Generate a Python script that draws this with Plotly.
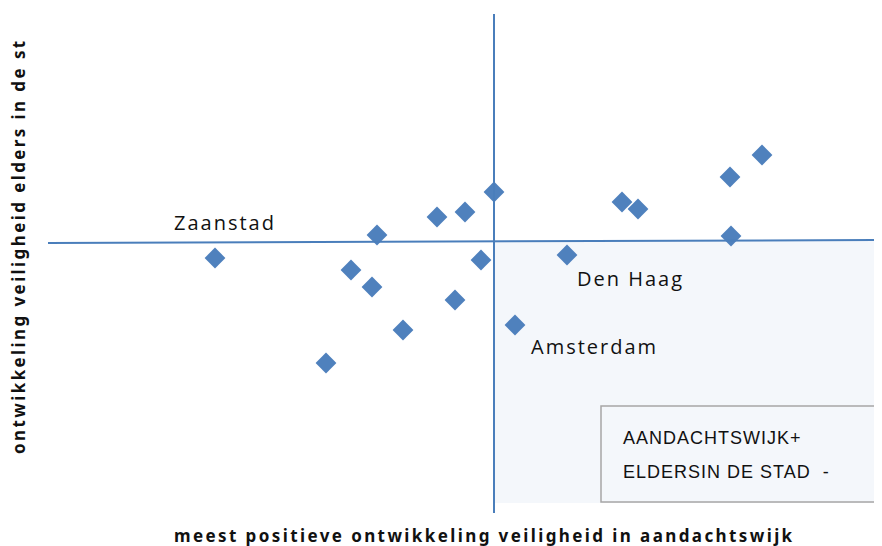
import plotly.graph_objects as go

# ---- data ----
x_vals = [-27.9, -16.8, -14.3, -12.2, -11.7, -9.1, -5.7, -3.9, -2.9, -1.3,
          0.0, 2.1, 7.3, 12.8, 14.4, 23.6, 23.7, 26.8]
y_vals = [-1.6, -12.1, -2.8, -4.5, 0.7, -8.8, 2.5, -5.8, 3.0, -1.8,
          5.0, -8.3, -1.3, 4.0, 3.3, 6.5, 0.6, 8.7]

labels = {"Zaanstad": (-27.9, -1.6), "Den Haag": (7.3, -1.3), "Amsterdam": (2.1, -8.3)}
label_offsets = {"Zaanstad": (-4.3, 3.6), "Den Haag": (0.8, -2.3), "Amsterdam": (1.4, -2.1)}

x_title = "meest positieve ontwikkeling veiligheid in aandachtswijk"
y_title = "ontwikkeling veiligheid elders in de st"
legend_lines = ["AANDACHTSWIJK+", "ELDERSIN DE STAD  -"]

BLUE = "#4F81BD"
LINE = "#4A7EBB"

# page body has an 8px margin, so the figure is 874x538 and sits at (8, 8)
W, H = 874, 538
X_RANGE = [-48.6, 38.8]
Y_RANGE = [-30.4, 23.4]


def px(x):  # window pixel -> paper fraction
    return (x - 8) / W


def py(y):
    return 1 - (y - 8) / H


def spaced(text, sp):
    return f'<span style="letter-spacing:{sp}px">{text}</span>'


fig = go.Figure()

# shaded quadrant
fig.add_shape(type="rect", x0=0, x1=X_RANGE[1] + 1, y0=-26.1, y1=0.1,
              fillcolor="#F4F7FB", line=dict(width=0), layer="below")

# cross lines
fig.add_shape(type="line", x0=-44.6, y0=-0.1, x1=X_RANGE[1] + 1, y1=0.2,
              line=dict(color=LINE, width=2))
fig.add_shape(type="line", x0=0, y0=22.8, x1=0, y1=-27.1,
              line=dict(color=LINE, width=2))

fig.add_trace(go.Scatter(
    x=x_vals, y=y_vals, mode="markers",
    marker=dict(symbol="diamond", size=16, color=BLUE, line=dict(width=0)),
    hoverinfo="x+y", showlegend=False,
))

for name, (lx, ly) in labels.items():
    dx, dy = label_offsets[name]
    fig.add_annotation(x=lx + dx, y=ly + dy, text=spaced(name, 2),
                       showarrow=False, xanchor="left", yanchor="middle",
                       font=dict(family="Open Sans", size=20, color="#111111"))

# box with text
fig.add_shape(type="rect", xref="paper", yref="paper",
              x0=px(601), x1=px(876), y0=py(502), y1=py(406),
              line=dict(color="#A6A6A6", width=1.5), fillcolor="rgba(0,0,0,0)")
for t, yy in zip(legend_lines, [438, 472]):
    fig.add_annotation(xref="paper", yref="paper", x=px(621), y=py(yy),
                       text=spaced(t, 1), showarrow=False,
                       xanchor="left", yanchor="middle",
                       font=dict(family="Liberation Sans", size=18, color="#111111"))

# axis titles as annotations
fig.add_annotation(xref="paper", yref="paper", x=px(172), y=py(535),
                   text="<b>" + spaced(x_title, 2.4) + "</b>", showarrow=False,
                   xanchor="left", yanchor="middle",
                   font=dict(family="Noto Sans", size=17, color="#111111"))
fig.add_annotation(xref="paper", yref="paper", x=px(18), y=py(246),
                   text="<b>" + spaced(y_title, 2.4) + "</b>", showarrow=False,
                   textangle=-90, xanchor="center", yanchor="middle",
                   font=dict(family="Noto Sans", size=17, color="#111111"))

fig.update_layout(
    width=W, height=H,
    margin=dict(l=0, r=0, t=0, b=0),
    paper_bgcolor="white", plot_bgcolor="white",
    xaxis=dict(range=X_RANGE, visible=False, fixedrange=True),
    yaxis=dict(range=Y_RANGE, visible=False, fixedrange=True),
    showlegend=False,
)

fig.write_html("out.html")
